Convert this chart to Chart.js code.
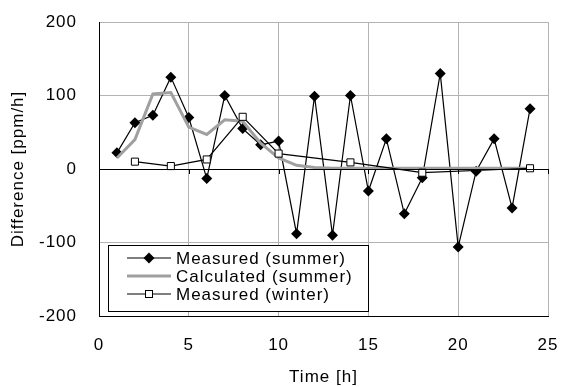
<!DOCTYPE html>
<html>
<head>
<meta charset="utf-8">
<script src="https://cdn.jsdelivr.net/npm/chart.js@4/dist/chart.umd.min.js"></script>
<style>
  html, body { margin: 0; padding: 0; background: #fff; }
  #wrap { width: 562px; height: 387px; position: relative; }
</style>
</head>
<body>
<div id="wrap"><canvas id="c" width="562" height="387"></canvas></div>
<script>
// ---- data ----
const hours = [1,2,3,4,5,6,7,8,9,10,11,12,13,14,15,16,17,18,19,20,21,22,23,24];
const measuredSummer = [22,63,73,125,70,-13,100,55,33,38,-88,99,-90,100,-30,41,-61,-12,130,-106,-3,41,-53,82];
const calculatedSummer = [15,40,102,104,57,47,67,65,35,15,5,2,1,1,1,1,1,1,1,1,1,1,1,1];
const winterHours = [2,4,6,8,10,14,18,24];
const measuredWinter = [10,4,13,71,21,9,-5,1];
const xTicks = [0,5,10,15,20,25];
const yTicks = [-200,-100,0,100,200];
const seriesNames = ['Measured (summer)','Calculated (summer)','Measured (winter)'];
const xTitle = 'Time [h]';
const yTitle = 'Difference [ppm/h]';

const FONT = { family: '"Liberation Sans", Arial, sans-serif', size: 17 };
const TITLE_FONT = { family: '"Liberation Sans", Arial, sans-serif', size: 17, lineHeight: 1 };
const pts = (xs, ys) => xs.map((x, i) => ({ x: x, y: ys[i] }));

const letterSpacingPlugin = {
  id: 'ls',
  beforeInit(chart) { chart.ctx.letterSpacing = '1px'; },
  beforeLayout(chart) { chart.ctx.letterSpacing = '1px'; },
  beforeDraw(chart) { chart.ctx.letterSpacing = '1px'; }
};

const zeroTicksPlugin = {
  id: 'zeroTicks',
  afterDraw(chart) {
    const ctx = chart.ctx, xs = chart.scales.x, ys = chart.scales.y;
    const y0 = ys.getPixelForValue(0);
    ctx.save();
    ctx.strokeStyle = '#000';
    ctx.lineWidth = 1;
    ctx.beginPath();
    ctx.moveTo(xs.left, Math.round(y0) + 0.5);
    ctx.lineTo(xs.right, Math.round(y0) + 0.5);
    xTicks.forEach(v => {
      const px = Math.round(xs.getPixelForValue(v)) + 0.5;
      ctx.moveTo(px, y0);
      ctx.lineTo(px, y0 + 5);
    });
    ctx.stroke();
    ctx.restore();
  }
};

const legendPlugin = {
  id: 'boxLegend',
  afterDraw(chart) {
    const ctx = chart.ctx, a = chart.chartArea;
    const bx = a.left + 9, by = a.bottom - 71, bw = 260, bh = 66;
    ctx.save();
    ctx.fillStyle = '#fff';
    ctx.fillRect(bx, by, bw, bh);
    ctx.strokeStyle = '#000';
    ctx.lineWidth = 1;
    ctx.strokeRect(bx + 0.5, by + 0.5, bw, bh);
    const lx0 = bx + 19, lx1 = bx + 63, mx = bx + 41, tx = bx + 68;
    const rows = [by + 13, by + 31, by + 49];
    ctx.letterSpacing = '1px';
    ctx.font = FONT.size + 'px ' + FONT.family;
    ctx.textBaseline = 'middle';
    ctx.textAlign = 'left';
    rows.forEach((ry, i) => {
      ctx.beginPath();
      ctx.moveTo(lx0, ry);
      ctx.lineTo(lx1, ry);
      if (i === 1) { ctx.strokeStyle = '#a0a0a0'; ctx.lineWidth = 3; }
      else { ctx.strokeStyle = '#000'; ctx.lineWidth = 1.2; }
      ctx.stroke();
      if (i === 0) {
        ctx.beginPath();
        ctx.moveTo(mx, ry - 5.5); ctx.lineTo(mx + 5.5, ry); ctx.lineTo(mx, ry + 5.5); ctx.lineTo(mx - 5.5, ry);
        ctx.closePath(); ctx.fillStyle = '#000'; ctx.fill();
      } else if (i === 2) {
        ctx.fillStyle = '#fff';
        ctx.fillRect(mx - 3.5, ry - 3.5, 7, 7);
        ctx.strokeStyle = '#000'; ctx.lineWidth = 1;
        ctx.strokeRect(mx - 3.5, ry - 3.5, 7, 7);
      }
      ctx.fillStyle = '#000';
      ctx.fillText(seriesNames[i], tx, ry + 1);
    });
    ctx.restore();
  }
};

new Chart(document.getElementById('c'), {
  type: 'line',
  data: {
    datasets: [
      {
        label: seriesNames[0], data: pts(hours, measuredSummer), order: 2,
        borderColor: '#000', borderWidth: 1.2, backgroundColor: '#000',
        pointStyle: 'rectRot', pointRadius: 5.5, pointBorderWidth: 0, tension: 0
      },
      {
        label: seriesNames[1], data: pts(hours, calculatedSummer), order: 1,
        borderColor: '#a0a0a0', borderWidth: 3, pointRadius: 0, tension: 0
      },
      {
        label: seriesNames[2], data: pts(winterHours, measuredWinter), order: 0,
        borderColor: '#000', borderWidth: 1.2, backgroundColor: '#fff',
        pointStyle: 'rect', pointRadius: 5, pointBorderWidth: 1, pointBorderColor: '#000', tension: 0
      }
    ]
  },
  options: {
    responsive: false,
    animation: false,
    events: [],
    layout: { autoPadding: false, padding: { top: 22, right: 14, left: 0, bottom: 0 } },
    plugins: { legend: { display: false }, tooltip: { enabled: false } },
    scales: {
      x: {
        type: 'linear', min: 0, max: 25,
        afterBuildTicks(s) { s.ticks = xTicks.map(v => ({ value: v })); },
        afterFit(s) { s.height = 71; s.paddingLeft = 0; s.paddingRight = 0; },
        ticks: { color: '#000', font: FONT, padding: 19, maxRotation: 0 },
        grid: { color: '#b3b3b3', lineWidth: 1, drawTicks: false },
        border: { display: true, color: '#000', width: 1 },
        title: { display: true, text: xTitle, color: '#000', font: TITLE_FONT, padding: { top: 0, bottom: 1 } }
      },
      y: {
        type: 'linear', min: -200, max: 200,
        afterBuildTicks(s) { s.ticks = yTicks.map(v => ({ value: v })); },
        afterFit(s) { s.width = 99; s.paddingTop = 0; s.paddingBottom = 0; },
        ticks: { color: '#000', font: FONT, padding: 22 },
        grid: { color: '#b3b3b3', lineWidth: 1, drawTicks: false },
        border: { display: true, color: '#000', width: 1 },
        title: { display: true, text: yTitle, color: '#000', font: FONT, padding: { top: 8, bottom: 0 } }
      }
    }
  },
  plugins: [letterSpacingPlugin, zeroTicksPlugin, legendPlugin]
});
</script>
</body>
</html>
